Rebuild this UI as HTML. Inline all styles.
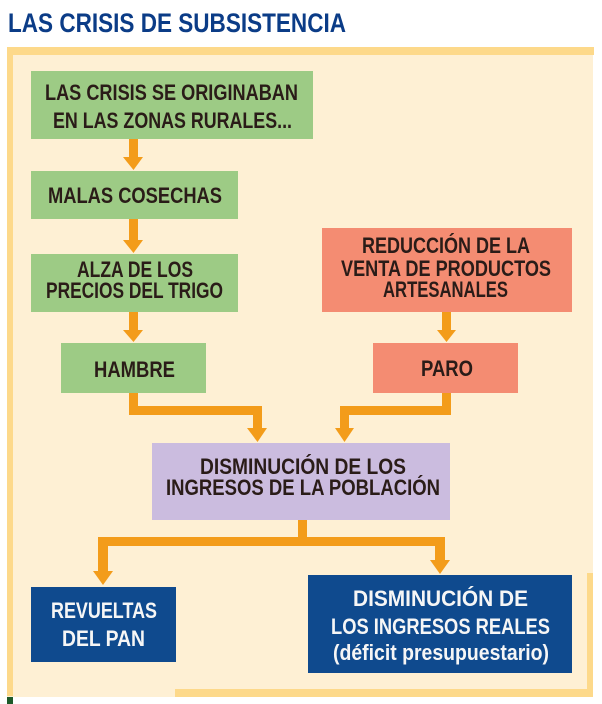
<!DOCTYPE html>
<html><head><meta charset="utf-8"><style>
html,body{margin:0;padding:0;background:#fff;}
svg{display:block;}
text{font-family:"Liberation Sans",sans-serif;font-weight:bold;}
.d{fill:#2a1c18;font-size:22px;}
.w{fill:#f6f6f6;font-size:22px;}
</style></head><body>
<svg width="602" height="704" viewBox="0 0 602 704" xmlns="http://www.w3.org/2000/svg">
<rect x="0" y="0" width="602" height="704" fill="#ffffff"/>
<text x="8" y="32" font-size="27" fill="#0b3c87" textLength="338" lengthAdjust="spacingAndGlyphs">LAS CRISIS DE SUBSISTENCIA</text>
<!-- frame -->
<rect x="7" y="47" width="586" height="650" fill="#fef0d4"/>
<rect x="7" y="47" width="587" height="8" fill="#fdd98a"/>
<rect x="7" y="47" width="6" height="649" fill="#fdd98a"/>
<rect x="175" y="689" width="418" height="8" fill="#fdd98a"/>
<rect x="587" y="573" width="6" height="124" fill="#fdd98a"/>
<rect x="7" y="697" width="6" height="7" fill="#1e5a2a"/>

<g fill="#f39c1a">
<rect x="129" y="139" width="9" height="20"/><polygon points="123,157 143,157 133.5,170"/>
<rect x="129" y="219" width="9" height="23"/><polygon points="123,240 143,240 133.5,253"/>
<rect x="129" y="312" width="9" height="20"/><polygon points="123,330 143,330 133.5,342"/>
<rect x="442" y="312" width="9" height="20"/><polygon points="437,330 456,330 446.5,342"/>
<rect x="129" y="393" width="9" height="22"/>
<rect x="129" y="406" width="133" height="9"/>
<rect x="253" y="406" width="9" height="24"/><polygon points="247,428 267,428 257.5,442"/>
<rect x="442" y="393" width="9" height="22"/>
<rect x="340" y="406" width="111" height="9"/>
<rect x="340" y="406" width="9" height="24"/><polygon points="335,428 354,428 344.5,442"/>
<rect x="298" y="519" width="9" height="27"/>
<rect x="98" y="537" width="347" height="9"/>
<rect x="98" y="537" width="10" height="36"/><polygon points="93,571 113,571 103,585"/>
<rect x="435" y="537" width="10" height="25"/><polygon points="430,560 450,560 440,574"/>
</g>

<rect x="31" y="71" width="282" height="68" fill="#9dcb85"/>
<text class="d" x="45" y="100" textLength="253" lengthAdjust="spacingAndGlyphs">LAS CRISIS SE ORIGINABAN</text>
<text class="d" x="53" y="128" textLength="239" lengthAdjust="spacingAndGlyphs">EN LAS ZONAS RURALES...</text>

<rect x="31" y="171" width="207" height="48" fill="#9dcb85"/>
<text class="d" x="48" y="203" textLength="174" lengthAdjust="spacingAndGlyphs">MALAS COSECHAS</text>

<rect x="31" y="254" width="207" height="58" fill="#9dcb85"/>
<text class="d" x="77" y="277" textLength="116" lengthAdjust="spacingAndGlyphs">ALZA DE LOS</text>
<text class="d" x="46" y="298" textLength="177" lengthAdjust="spacingAndGlyphs">PRECIOS DEL TRIGO</text>

<rect x="61" y="343" width="145" height="50" fill="#9dcb85"/>
<text class="d" x="94" y="377" textLength="81" lengthAdjust="spacingAndGlyphs">HAMBRE</text>

<rect x="322" y="228" width="250" height="84" fill="#f48c72"/>
<text class="d" x="362" y="253" textLength="168" lengthAdjust="spacingAndGlyphs">REDUCCIÓN DE LA</text>
<text class="d" x="341" y="276" textLength="210" lengthAdjust="spacingAndGlyphs">VENTA DE PRODUCTOS</text>
<text class="d" x="383" y="297" textLength="125" lengthAdjust="spacingAndGlyphs">ARTESANALES</text>

<rect x="373" y="343" width="145" height="50" fill="#f48c72"/>
<text class="d" x="421" y="376" textLength="52" lengthAdjust="spacingAndGlyphs">PARO</text>

<rect x="152" y="443" width="298" height="77" fill="#cbbcdf"/>
<text class="d" x="200" y="474" textLength="206" lengthAdjust="spacingAndGlyphs">DISMINUCIÓN DE LOS</text>
<text class="d" x="166" y="495" textLength="274" lengthAdjust="spacingAndGlyphs">INGRESOS DE LA POBLACIÓN</text>

<rect x="31" y="587" width="145" height="75" fill="#0f4a8e"/>
<text class="w" x="51" y="618" textLength="106" lengthAdjust="spacingAndGlyphs">REVUELTAS</text>
<text class="w" x="62" y="646" textLength="83" lengthAdjust="spacingAndGlyphs">DEL PAN</text>

<rect x="308" y="575" width="264" height="98" fill="#0f4a8e"/>
<text class="w" x="353" y="606" textLength="175" lengthAdjust="spacingAndGlyphs">DISMINUCIÓN DE</text>
<text class="w" x="331" y="634" textLength="219" lengthAdjust="spacingAndGlyphs">LOS INGRESOS REALES</text>
<text class="w" x="333" y="660" font-size="21" textLength="216" lengthAdjust="spacingAndGlyphs">(déficit presupuestario)</text>
</svg>
</body></html>
